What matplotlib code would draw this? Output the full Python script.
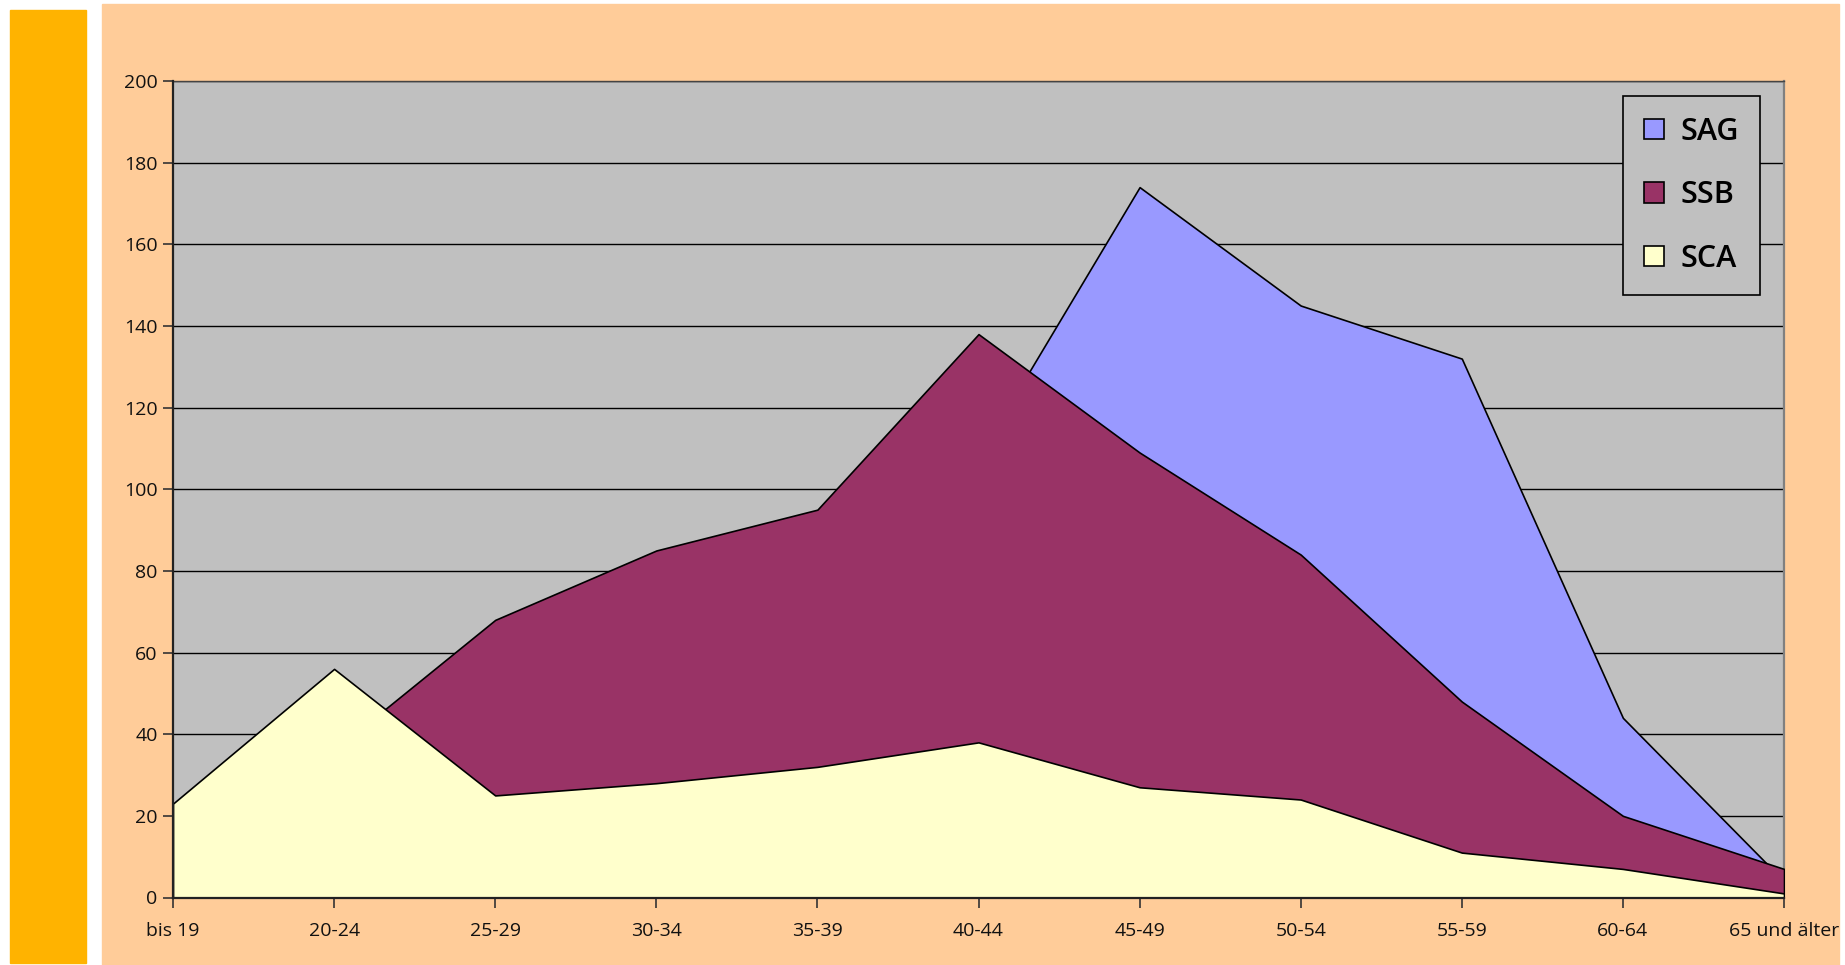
import numpy as np
import matplotlib
matplotlib.use('Agg')
import matplotlib.pyplot as plt
from matplotlib.patches import Rectangle, Patch

plt.rcParams['font.family'] = ['Open Sans', 'DejaVu Sans']

# --- Data: staff per age group ---
age_groups = ['bis 19', '20-24', '25-29', '30-34', '35-39', '40-44',
              '45-49', '50-54', '55-59', '60-64', '65 und älter']
sag = [5, 20, 40, 60, 75, 108, 174, 145, 132, 44, 4]
ssb = [12, 36, 68, 85, 95, 138, 109, 84, 48, 20, 7]
sca = [23, 56, 25, 28, 32, 38, 27, 24, 11, 7, 1]

series = [('SAG', sag, '#9999FF'),
          ('SSB', ssb, '#993366'),
          ('SCA', sca, '#FFFFCC')]

W, H = 1845, 965
fig = plt.figure(figsize=(W / 100, H / 100), dpi=100, facecolor='white')

# background panels
fig.patches.append(Rectangle((10 / W, 1 - 963 / H), 76 / W, 953 / H,
                             transform=fig.transFigure, color='#FFB300', zorder=0))
fig.patches.append(Rectangle((102 / W, 0), (1839 - 102) / W, 1 - 4 / H,
                             transform=fig.transFigure, color='#FFCC99', zorder=0))

left, right, top, bottom = 173, 1784, 81, 897.5
ax = fig.add_axes([left / W, 1 - bottom / H, (right - left) / W, (bottom - top) / H])
ax.set_zorder(2)
ax.set_facecolor('#C0C0C0')

x = np.arange(len(age_groups))
for i, (name, vals, col) in enumerate(series):
    ax.fill_between(x, 0, vals, facecolor=col, edgecolor='black',
                    linewidth=1.2, zorder=2 + i)

ax.set_xlim(0, len(age_groups) - 1)
ax.set_ylim(0, 200)
ax.set_yticks(np.arange(0, 201, 20))
ax.set_xticks(x)
ax.set_xticklabels(age_groups)
ax.yaxis.grid(True, color='black', linewidth=1.0)
ax.set_axisbelow(True)

ax.tick_params(axis='both', direction='out', length=7, width=1.2,
               color='#333333', labelsize=14, labelcolor='#111111')
ax.tick_params(axis='x', pad=11)
ax.tick_params(axis='y', pad=4)

for side in ['left', 'bottom']:
    ax.spines[side].set_color('#222222')
    ax.spines[side].set_linewidth(1.6)
    ax.spines[side].set_zorder(10)
ax.spines['right'].set_color('#808080')
ax.spines['right'].set_linewidth(1.6)
ax.spines['top'].set_color('#444444')
ax.spines['top'].set_linewidth(1.0)

handles = [Patch(facecolor=c, edgecolor='black', linewidth=1.2, label=n)
           for n, _, c in series]
leg = ax.legend(handles=handles, loc='upper right',
                bbox_to_anchor=(1760 / W, 1 - 96 / H), bbox_transform=fig.transFigure,
                borderaxespad=0, prop={'size': 22, 'weight': 'semibold'},
                frameon=True, fancybox=False,
                framealpha=1, facecolor='#C0C0C0', edgecolor='black',
                handlelength=0.65, handleheight=0.65, handletextpad=0.55,
                labelspacing=1.1, borderpad=0.68)
leg.get_frame().set_linewidth(1.2)
leg.set_zorder(20)

fig.savefig('out.png', dpi=100, facecolor='white')
